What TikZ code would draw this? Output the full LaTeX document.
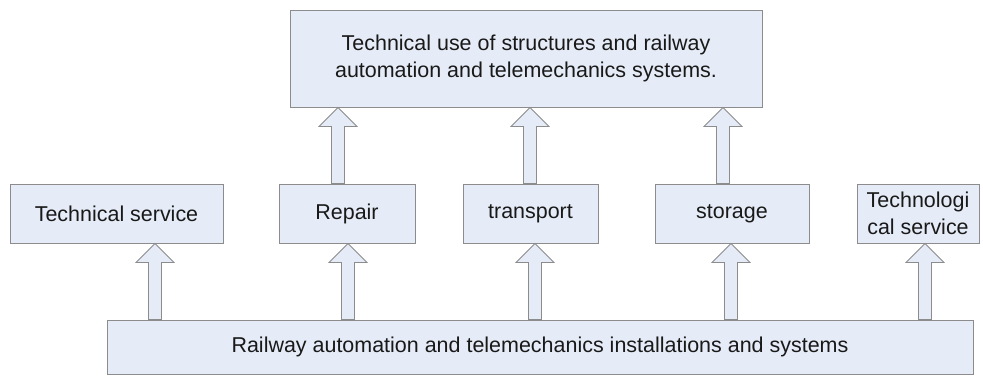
\documentclass[tikz,border=0pt]{standalone}
\usepackage{fontspec}
\setmainfont{Liberation Sans}
\usepackage{tikz}
\definecolor{boxfill}{HTML}{E6ECF7}
\definecolor{boxline}{HTML}{8C8C8C}
\tikzset{
  block/.style={rectangle, fill=boxfill, draw=boxline, line width=0.75pt, inner sep=0pt,
    font=\fontsize{16.1}{20.5}\selectfont, text=black!90, align=center},
  fatarrow/.style={fill=boxfill, draw=boxline, line width=0.6pt, line join=miter},
}
\newcommand{\fatarrow}[3]{%
  \coordinate (fa-b) at (#1,0 |- #2.north);
  \coordinate (fa-t) at (#1,0 |- #3.south);
  \draw[fatarrow] ([xshift=-4.9pt]fa-b) -- ([xshift=-4.9pt,yshift=-14.25pt]fa-t)
    -- ([xshift=-14.25pt,yshift=-14.25pt]fa-t) -- (fa-t)
    -- ([xshift=14.25pt,yshift=-14.25pt]fa-t) -- ([xshift=4.9pt,yshift=-14.25pt]fa-t)
    -- ([xshift=4.9pt]fa-b) -- cycle;
}
\begin{document}
\begin{tikzpicture}[x=0.75pt, y=-0.75pt]
\useasboundingbox (0,0) rectangle (983,376);
\node[block, minimum width=354pt, minimum height=72.75pt] (use) at (526,58.5)
  {Technical use of structures and railway\\automation and telemechanics systems.};
\node[block, minimum width=159.75pt, minimum height=44.25pt] (techserv) at (116.5,213.5) {Technical service};
\node[block, minimum width=102pt, minimum height=44.25pt] (repair) at (347,213.5) {Repair};
\node[block, minimum width=101.25pt, minimum height=44.25pt] (transport) at (530.5,213.5) {transport};
\node[block, minimum width=115.5pt, minimum height=44.25pt] (storage) at (732,213.5) {storage};
\node[block, minimum width=91.5pt, minimum height=44.25pt] (technol) at (918,213.5) {Technologi\\cal service};
\node[block, minimum width=649.5pt, minimum height=40.5pt] (install) at (540,347)
  {Railway automation and telemechanics installations and systems};
\fatarrow{155}{install}{techserv}
\fatarrow{348}{install}{repair}
\fatarrow{535}{install}{transport}
\fatarrow{731}{install}{storage}
\fatarrow{925}{install}{technol}
\fatarrow{338}{repair}{use}
\fatarrow{530}{transport}{use}
\fatarrow{723}{storage}{use}
\end{tikzpicture}
\end{document}
